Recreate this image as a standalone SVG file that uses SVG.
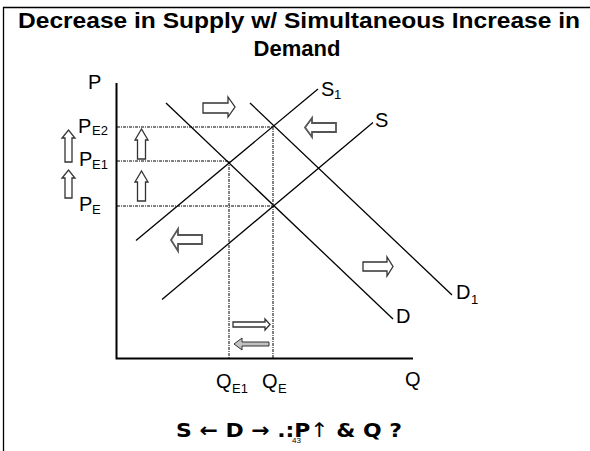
<svg xmlns="http://www.w3.org/2000/svg" width="590" height="451" viewBox="0 0 590 451">
<style>
.t{font-family:"Liberation Sans",Arial,sans-serif;font-weight:bold;fill:#000}
.lbl{font-family:"Liberation Sans",Arial,sans-serif;fill:#000}
.sub{font-family:"Liberation Sans",Arial,sans-serif;fill:#000;font-size:13px}
.curve{stroke:#000;stroke-width:1.3;fill:none}
.axis{stroke:#000;stroke-width:2;fill:none}
.dot{stroke:#000;stroke-width:1;stroke-dasharray:3 1 1 1;fill:none}
.blk{fill:#fff;stroke:#333;stroke-width:1.3}
.blkg{fill:#fff;stroke:#555;stroke-width:1.8}
</style>
<rect width="590" height="451" fill="#fff"/>
<g id="frame">
<path d="M3.5,451 V7.5 H590" fill="none" stroke="#000" stroke-width="1.3"/>
</g>
<g id="title">
<text class="t" x="18" y="28" font-size="22" textLength="562" lengthAdjust="spacingAndGlyphs">Decrease in Supply w/ Simultaneous Increase in</text>
<text class="t" x="297" y="56" font-size="22" text-anchor="middle">Demand</text>
</g>
<g id="axes">
<path class="axis" d="M116.5,83 V358.5 H413"/>
<text class="lbl" x="88" y="89" font-size="20">P</text>
<text class="lbl" x="405" y="386" font-size="20">Q</text>
</g>
<g id="guides">
<path class="dot" d="M117,127 H273 M117,161 H229 M117,206 H273 M229,161 V358 M273,127 V358"/>
</g>
<g id="connectors">
<line id="D" class="curve" x1="166" y1="103" x2="393" y2="319"/>
<line id="D1" class="curve" x1="250" y1="103" x2="452" y2="295"/>
<line id="S" class="curve" x1="162" y1="299.5" x2="373" y2="122.5"/>
<line id="S1" class="curve" x1="136" y1="240.5" x2="318" y2="89"/>
</g>
<g id="curve-labels">
<text class="lbl" x="321" y="96" font-size="20">S</text>
<text class="sub" x="334" y="99">1</text>
<text class="lbl" x="375" y="127" font-size="20">S</text>
<text class="lbl" x="396" y="323" font-size="20">D</text>
<text class="lbl" x="456" y="299" font-size="20">D</text>
<text class="sub" x="471" y="304">1</text>
</g>
<g id="price-labels">
<text class="lbl" x="78" y="133" font-size="20">P</text><text class="sub" x="92" y="135">E2</text>
<text class="lbl" x="79" y="166" font-size="20">P</text><text class="sub" x="92" y="169">E1</text>
<text class="lbl" x="79" y="211" font-size="20">P</text><text class="sub" x="92" y="214">E</text>
</g>
<g id="qty-labels">
<text class="lbl" x="216" y="388" font-size="20">Q</text><text class="sub" x="232" y="393">E1</text>
<text class="lbl" x="262" y="388" font-size="20">Q</text><text class="sub" x="278" y="393">E</text>
</g>
<g id="arrows">
<path class="blk" d="M65,162 V138 H62 L68.5,130 L75,138 H72 V162 Z"/>
<path class="blk" d="M65,198 V178 H62 L68.5,170 L75,178 H72 V198 Z"/>
<path class="blk" d="M137.5,159 V140 H135 L141.5,129 L148,140 H145.5 V159 Z"/>
<path class="blk" d="M137.5,201 V182 H135 L141.5,171 L148,182 H145.5 V201 Z"/>
<path class="blk" d="M203,103 H228 V97 L235,107 L228,117 V113 H203 Z"/>
<path class="blkg" d="M336,123 H312 V118 L305,127.5 L312,137 V132 H336 Z"/>
<path class="blkg" d="M202,235 H178 V229 L171,240 L178,251 V244 H202 Z"/>
<path class="blk" d="M363,262 H387 V257 L393,266.5 L387,276 V271 H363 Z"/>
<path class="blk" d="M233,322 H265 V319 L270,324.5 L265,330 V327 H233 Z"/>
<path d="M269,342 H242 V338 L234,344 L242,350 V346 H269 Z" fill="#c0c0c0" stroke="#333" stroke-width="1"/>
</g>
<g id="summary">
<text x="176" y="437" font-size="20" font-weight="bold" font-family="'DejaVu Sans',sans-serif" textLength="226" lengthAdjust="spacingAndGlyphs">S ← D → .:P<tspan font-weight="normal">↑</tspan> &amp; Q ?</text>
<text class="lbl" x="292" y="443" font-size="8">43</text>
</g>
</svg>
